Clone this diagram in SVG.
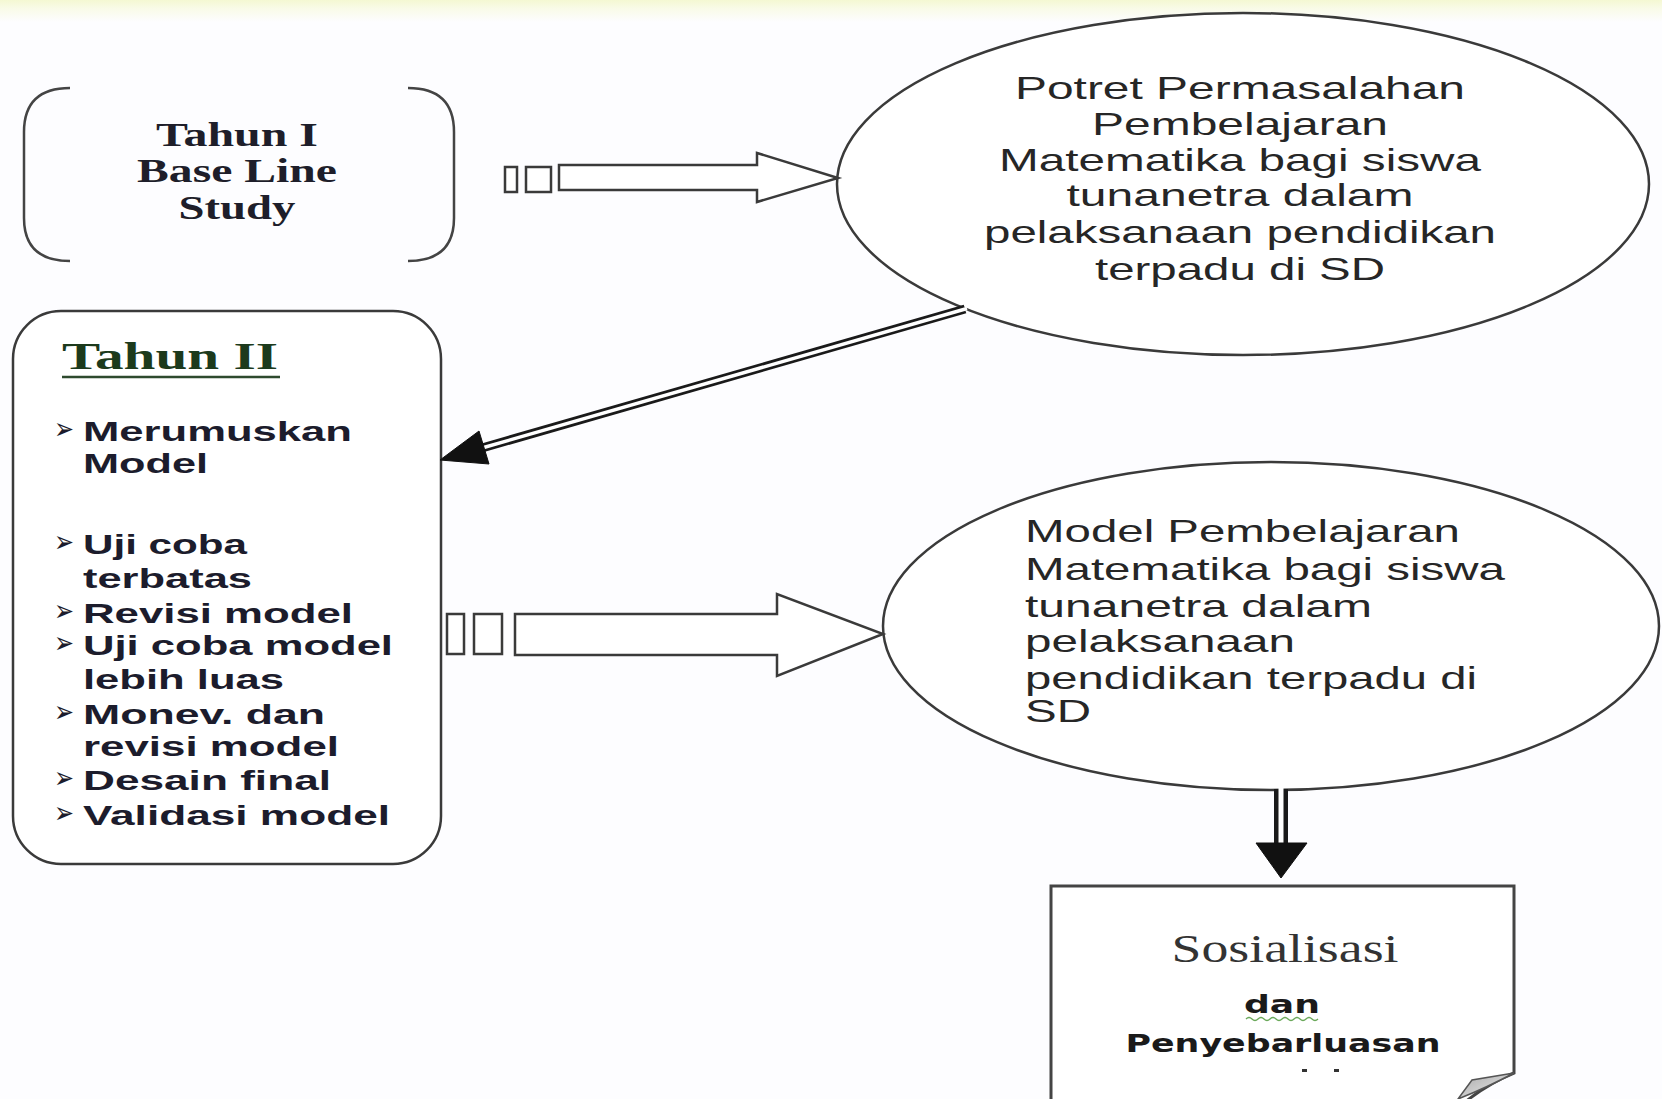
<svg xmlns="http://www.w3.org/2000/svg" width="1662" height="1099" viewBox="0 0 1662 1099">
  <defs>
    <linearGradient id="topband" x1="0" y1="0" x2="0" y2="1">
      <stop offset="0" stop-color="#f4f8d2"/>
      <stop offset="0.4" stop-color="#f9fbe8"/>
      <stop offset="1" stop-color="#fdfdff"/>
    </linearGradient>
    <linearGradient id="fold" x1="0" y1="0" x2="1" y2="1">
      <stop offset="0" stop-color="#a8a8a8"/>
      <stop offset="1" stop-color="#f0f0f0"/>
    </linearGradient>
    <style>
      .shape { fill: #ffffff; stroke: #3a3a3a; stroke-width: 2.5; }
      .bracket { fill: none; stroke: #444; stroke-width: 2.5; }
      .serifb { font-family: "Liberation Serif", "Times New Roman", serif; font-weight: bold; fill: #1e1e2a; }
      .sans { font-family: "Liberation Sans", Arial, sans-serif; fill: #262626; font-size: 32px; }
      .list { font-family: "Liberation Sans", Arial, sans-serif; font-weight: bold; fill: #1c1c2c; font-size: 28px; }
      .bullet { font-family: "DejaVu Sans", sans-serif; fill: #1c1c2c; font-size: 30px; }
      .dbl-out { stroke: #1a1a1a; fill: none; }
      .dbl-in { stroke: #ffffff; fill: none; }
      .head { fill: #111; stroke: #111; stroke-width: 1; stroke-linejoin: miter; }
    </style>
  </defs>

  <rect x="0" y="0" width="1662" height="1099" fill="#fdfdff"/>
  <rect x="0" y="0" width="1662" height="22" fill="url(#topband)"/>

  <!-- Tahun I node -->
  <g id="node-tahun1">
    <path class="bracket" d="M70,88 Q24,88 24,132 L24,218 Q24,261 70,261"/>
    <path class="bracket" d="M408,88 Q454,88 454,132 L454,218 Q454,261 408,261"/>
    <text class="serifb" font-size="33" text-anchor="middle" x="237" y="146" textLength="162" lengthAdjust="spacingAndGlyphs">Tahun I</text>
    <text class="serifb" font-size="33" text-anchor="middle" x="237" y="182" textLength="200" lengthAdjust="spacingAndGlyphs">Base Line</text>
    <text class="serifb" font-size="33" text-anchor="middle" x="237" y="219" textLength="117" lengthAdjust="spacingAndGlyphs">Study</text>
  </g>

  <!-- Ellipse 1 -->
  <g id="node-potret">
    <ellipse class="shape" cx="1243" cy="184" rx="406" ry="171"/>
    <text class="sans" text-anchor="middle" x="1240" y="99" textLength="450" lengthAdjust="spacingAndGlyphs">Potret Permasalahan</text>
    <text class="sans" text-anchor="middle" x="1240" y="135" textLength="296" lengthAdjust="spacingAndGlyphs">Pembelajaran</text>
    <text class="sans" text-anchor="middle" x="1240" y="171" textLength="482" lengthAdjust="spacingAndGlyphs">Matematika bagi siswa</text>
    <text class="sans" text-anchor="middle" x="1240" y="206" textLength="347" lengthAdjust="spacingAndGlyphs">tunanetra dalam</text>
    <text class="sans" text-anchor="middle" x="1240" y="243" textLength="512" lengthAdjust="spacingAndGlyphs">pelaksanaan pendidikan</text>
    <text class="sans" text-anchor="middle" x="1240" y="280" textLength="290" lengthAdjust="spacingAndGlyphs">terpadu di SD</text>
  </g>

  <!-- Tahun II node -->
  <g id="node-tahun2">
    <rect class="shape" x="13" y="311" width="428" height="553" rx="48" ry="48"/>
    <text class="serifb" font-size="38" x="62" y="369" textLength="216" lengthAdjust="spacingAndGlyphs" style="fill:#1c3a1c">Tahun II</text>
    <line x1="62" y1="377" x2="280" y2="377" stroke="#2e4a2e" stroke-width="2.5"/>
    <text class="bullet" x="54" y="439" textLength="20" lengthAdjust="spacingAndGlyphs">➢</text>
    <text class="list" x="83" y="441" textLength="269" lengthAdjust="spacingAndGlyphs">Merumuskan</text>
    <text class="list" x="83" y="473" textLength="125" lengthAdjust="spacingAndGlyphs">Model</text>
    <text class="bullet" x="54" y="552" textLength="20" lengthAdjust="spacingAndGlyphs">➢</text>
    <text class="list" x="83" y="554" textLength="164" lengthAdjust="spacingAndGlyphs">Uji coba</text>
    <text class="list" x="83" y="588" textLength="169" lengthAdjust="spacingAndGlyphs">terbatas</text>
    <text class="bullet" x="54" y="621" textLength="20" lengthAdjust="spacingAndGlyphs">➢</text>
    <text class="list" x="83" y="623" textLength="270" lengthAdjust="spacingAndGlyphs">Revisi model</text>
    <text class="bullet" x="54" y="653" textLength="20" lengthAdjust="spacingAndGlyphs">➢</text>
    <text class="list" x="83" y="655" textLength="310" lengthAdjust="spacingAndGlyphs">Uji coba model</text>
    <text class="list" x="83" y="689" textLength="201" lengthAdjust="spacingAndGlyphs">lebih luas</text>
    <text class="bullet" x="54" y="722" textLength="20" lengthAdjust="spacingAndGlyphs">➢</text>
    <text class="list" x="83" y="724" textLength="242" lengthAdjust="spacingAndGlyphs">Monev. dan</text>
    <text class="list" x="83" y="756" textLength="256" lengthAdjust="spacingAndGlyphs">revisi model</text>
    <text class="bullet" x="54" y="788" textLength="20" lengthAdjust="spacingAndGlyphs">➢</text>
    <text class="list" x="83" y="790" textLength="248" lengthAdjust="spacingAndGlyphs">Desain final</text>
    <text class="bullet" x="54" y="823" textLength="20" lengthAdjust="spacingAndGlyphs">➢</text>
    <text class="list" x="83" y="825" textLength="307" lengthAdjust="spacingAndGlyphs">Validasi model</text>
  </g>

  <!-- Ellipse 2 -->
  <g id="node-model">
    <ellipse class="shape" cx="1271" cy="626" rx="388" ry="164"/>
    <text class="sans" x="1025" y="542" textLength="435" lengthAdjust="spacingAndGlyphs">Model Pembelajaran</text>
    <text class="sans" x="1025" y="580" textLength="480" lengthAdjust="spacingAndGlyphs">Matematika bagi siswa</text>
    <text class="sans" x="1025" y="617" textLength="347" lengthAdjust="spacingAndGlyphs">tunanetra dalam</text>
    <text class="sans" x="1025" y="652" textLength="270" lengthAdjust="spacingAndGlyphs">pelaksanaan</text>
    <text class="sans" x="1025" y="689" textLength="452" lengthAdjust="spacingAndGlyphs">pendidikan terpadu di</text>
    <text class="sans" x="1025" y="722" textLength="66" lengthAdjust="spacingAndGlyphs">SD</text>
  </g>

  <!-- Sosialisasi node -->
  <g id="node-sosialisasi">
    <path d="M1051,1110 L1051,886 L1514,886 L1514,1073 Q1482,1086 1456,1110" fill="#ffffff" stroke="#444" stroke-width="3"/>
    <path d="M1514,1073 L1472,1080 L1458,1099 Q1486,1088 1514,1073 Z" fill="url(#fold)" stroke="#555" stroke-width="1.5"/>
    <text font-family="'Liberation Serif', 'Times New Roman', serif" font-size="39" fill="#333" text-anchor="middle" x="1285" y="962" textLength="227" lengthAdjust="spacingAndGlyphs">Sosialisasi</text>
    <text font-family="'DejaVu Sans', sans-serif" font-weight="bold" font-size="24" fill="#1a1a1a" text-anchor="middle" x="1282" y="1013" textLength="76" lengthAdjust="spacingAndGlyphs">dan</text>
    <path d="M1246,1019 q3,-3 6,0 t6,0 t6,0 t6,0 t6,0 t6,0 t6,0 t6,0 t6,0 t6,0 t6,0 t6,0" fill="none" stroke="#6aa85a" stroke-width="1.3"/>
    <text font-family="'DejaVu Sans', sans-serif" font-weight="bold" font-size="25" fill="#1a1a1a" text-anchor="middle" x="1283" y="1052" textLength="315" lengthAdjust="spacingAndGlyphs">Penyebarluasan</text>
    <rect x="1302" y="1069" width="5" height="3" fill="#333"/>
    <rect x="1334" y="1069" width="5" height="3" fill="#333"/>
  </g>

  <!-- Connectors -->
  <g id="connectors">
    <rect class="shape" x="505" y="167" width="12" height="25"/>
    <rect class="shape" x="526" y="167" width="25" height="25"/>
    <polygon class="shape" points="559,165 757,165 757,153 838,178 757,202 757,190 559,190"/>

    <line class="dbl-out" x1="965" y1="309" x2="482" y2="448" stroke-width="9"/>
    <line class="dbl-in" x1="967" y1="308.5" x2="482" y2="448" stroke-width="3.5"/>
    <polygon class="head" points="440,460 489,464 479,431"/>

    <rect class="shape" x="447" y="614" width="17" height="40"/>
    <rect class="shape" x="474" y="614" width="28" height="40"/>
    <polygon class="shape" points="515,614 777,614 777,594 883,634 777,676 777,655 515,655"/>

    <line class="dbl-out" x1="1281" y1="789" x2="1281" y2="846" stroke-width="14"/>
    <line class="dbl-in" x1="1281" y1="786" x2="1281" y2="846" stroke-width="5"/>
    <polygon class="head" points="1256,843 1307,843 1281,878"/>
  </g>
</svg>
